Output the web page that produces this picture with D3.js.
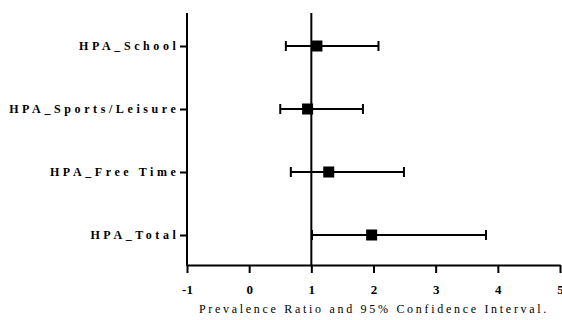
<!DOCTYPE html>
<html><head><meta charset="utf-8">
<script src="https://cdn.jsdelivr.net/npm/d3@7"></script>
<style>body{margin:0;background:#fff}svg{display:block}</style>
</head><body>
<svg id="c" width="562" height="320"></svg>
<script>
const categories = ["HPA_School", "HPA_Sports/Leisure", "HPA_Free Time", "HPA_Total"];
const estimates = [1.09, 0.94, 1.28, 1.97];
const lower = [0.59, 0.50, 0.67, 1.01];
const upper = [2.08, 1.83, 2.49, 3.81];
const xTicks = [-1, 0, 1, 2, 3, 4, 5];
const xTitle = "Prevalence Ratio and 95% Confidence Interval.";
const refValue = 1;

(function () {
const svg = d3.select("#c");
const x = d3.scaleLinear().domain([-1, 5]).range([187, 560]);
const y = d3.scalePoint().domain(categories).range([46, 235]);
const yTop = 13, yBottom = 265;
const data = categories.map((c, i) => ({c, e: estimates[i], lo: lower[i], hi: upper[i]}));

// x axis
const xa = svg.append("g").attr("transform", `translate(0,${yBottom})`)
  .call(d3.axisBottom(x).tickValues(xTicks).tickSize(8).tickSizeOuter(0).tickFormat(d => String(d)));
xa.select(".domain").attr("stroke", "#000").attr("stroke-width", 2);
xa.selectAll(".tick line").attr("stroke", "#000").attr("stroke-width", 2);
xa.selectAll(".tick text").attr("font-family", "Liberation Serif, Times New Roman, serif")
  .attr("font-weight", "bold").attr("font-size", 13).attr("fill", "#000").attr("dy", "1.35em");

// y axis
svg.append("line").attr("x1", x(-1)).attr("x2", x(-1)).attr("y1", yTop).attr("y2", yBottom + 1)
  .attr("stroke", "#000").attr("stroke-width", 2);
const ya = svg.append("g").attr("transform", `translate(${x(-1)},0)`)
  .call(d3.axisLeft(y).tickSize(7).tickSizeOuter(0).tickPadding(0.5));
ya.select(".domain").remove();
ya.selectAll(".tick line").attr("stroke", "#000").attr("stroke-width", 2);
ya.selectAll(".tick text").attr("font-family", "Liberation Serif, Times New Roman, serif")
  .attr("font-weight", "bold").attr("font-size", 12).attr("fill", "#000")
  .style("letter-spacing", "3.6px");

// reference line
svg.append("line").attr("x1", x(refValue)).attr("x2", x(refValue)).attr("y1", yTop).attr("y2", yBottom)
  .attr("stroke", "#000").attr("stroke-width", 2);

const g = svg.append("g").selectAll("g").data(data).join("g");
g.append("line").attr("x1", d => x(d.lo)).attr("x2", d => x(d.hi))
  .attr("y1", d => y(d.c)).attr("y2", d => y(d.c)).attr("stroke", "#000").attr("stroke-width", 2);
g.append("line").attr("x1", d => x(d.lo)).attr("x2", d => x(d.lo))
  .attr("y1", d => y(d.c) - 5).attr("y2", d => y(d.c) + 5).attr("stroke", "#000").attr("stroke-width", 2);
g.append("line").attr("x1", d => x(d.hi)).attr("x2", d => x(d.hi))
  .attr("y1", d => y(d.c) - 5).attr("y2", d => y(d.c) + 5).attr("stroke", "#000").attr("stroke-width", 2);
g.append("rect").attr("x", d => x(d.e) - 5.5).attr("y", d => y(d.c) - 5.5)
  .attr("width", 11).attr("height", 11).attr("fill", "#000");

svg.append("text").attr("x", 374).attr("y", 313).attr("text-anchor", "middle")
  .attr("font-family", "Liberation Serif, Times New Roman, serif").attr("font-size", 12)
  .style("letter-spacing", "2.7px").attr("fill", "#000").text(xTitle);
})();
</script>
</body></html>
